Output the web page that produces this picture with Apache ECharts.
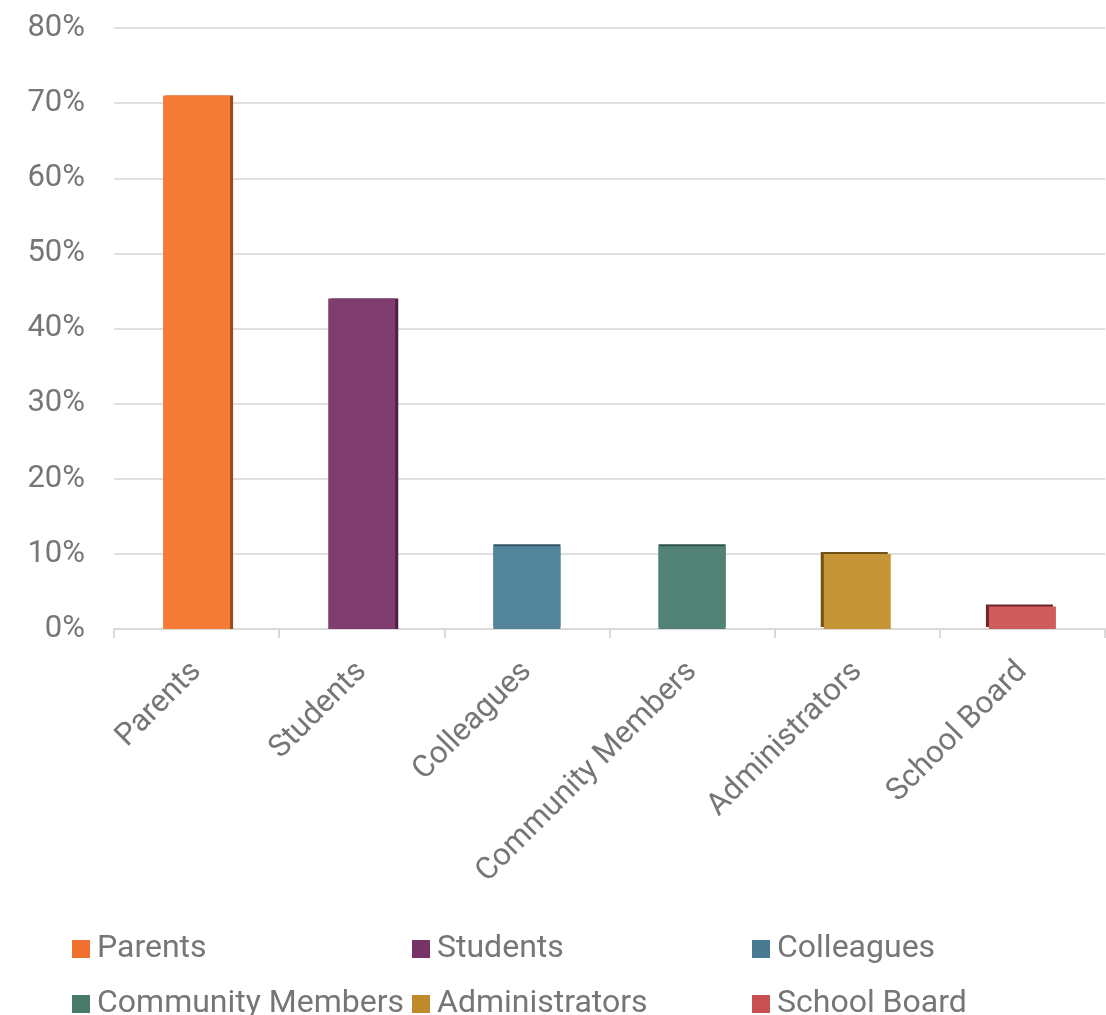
<!DOCTYPE html>
<html>
<head>
<meta charset="utf-8">
<script src="https://cdn.jsdelivr.net/npm/echarts@6/dist/echarts.min.js"></script>
<style>
html,body{margin:0;padding:0;background:#fff;}
#chart{width:1106px;height:1015px;}
</style>
</head>
<body>
<div id="chart"></div>
<script>
const categories = ["Parents", "Students", "Colleagues", "Community Members", "Administrators", "School Board"];
const values = [71, 44, 11, 11, 10, 3];
const barColors = ["#F47B36", "#7F3D6F", "#52849B", "#528276", "#C69535", "#D05B5B"];
const legendColors = ["#EF702F", "#763466", "#4A7A92", "#4A7A6C", "#BE8A2C", "#C85050"];
const edgeColors = ["#9A4A1C", "#4E2144", "#2F5567", "#2F5349", "#6E5018", "#6E2626"];
const edgeOffsets = [[3, 0], [3, 0], [0, -2], [0, -2], [-3, -2], [-3, -2]];
const yTicks = [0, 10, 20, 30, 40, 50, 60, 70, 80];

const textColor = "#767676";
const font = "Roboto";

const series = categories.map((name, i) => ({
  name: name,
  type: "bar",
  stack: "all",
  barWidth: 67,
  data: categories.map((c, j) => (j === i ? values[i] : "-")),
  itemStyle: {
    color: barColors[i],
    shadowColor: edgeColors[i],
    shadowBlur: 0,
    shadowOffsetX: edgeOffsets[i][0],
    shadowOffsetY: edgeOffsets[i][1]
  }
}));

// legend slots: 3 columns x 2 rows
const legendLefts = [72, 412, 752];
const legendTops = [933, 988];

const legends = categories.map((name, i) => ({
  orient: "horizontal",
  left: legendLefts[i % 3],
  top: legendTops[Math.floor(i / 3)],
  padding: 0,
  itemWidth: 18,
  itemHeight: 18,
  icon: "rect",
  data: [{ name: name, itemStyle: { color: legendColors[i] } }],
  textStyle: {
    color: textColor,
    fontFamily: font,
    fontSize: 32,
    lineHeight: 28,
    padding: [0, 0, 0, 2]
  }
}));

const option = {
  backgroundColor: "#fff",
  animation: false,
  color: barColors,
  grid: { left: 114, right: 1, top: 28, bottom: 386, containLabel: false },
  legend: legends,
  xAxis: {
    type: "category",
    data: categories,
    axisLine: { show: true, lineStyle: { color: "#d9d9d9", width: 2 } },
    axisTick: { show: true, length: 9, lineStyle: { color: "#d9d9d9", width: 2 } },
    axisLabel: {
      rotate: 45,
      margin: 38,
      color: textColor,
      fontFamily: font,
      fontSize: 31
    }
  },
  yAxis: {
    type: "value",
    min: 0,
    max: 80,
    interval: 10,
    axisLine: { show: false },
    axisTick: { show: false },
    splitLine: { show: true, lineStyle: { color: "#e0e0e0", width: 2 } },
    axisLabel: {
      margin: 29,
      color: textColor,
      fontFamily: font,
      fontSize: 31,
      formatter: v => (yTicks.includes(v) ? v + "%" : "")
    }
  },
  series: series
};

const chart = echarts.init(document.getElementById("chart"), null, { renderer: "canvas" });
chart.setOption(option);
</script>
</body>
</html>
